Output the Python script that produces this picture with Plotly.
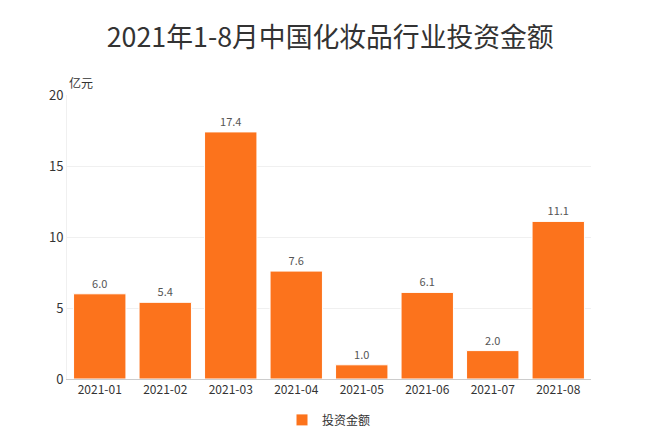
import plotly.graph_objects as go

categories = ["2021-01", "2021-02", "2021-03", "2021-04", "2021-05", "2021-06", "2021-07", "2021-08"]
values = [6.0, 5.4, 17.4, 7.6, 1.0, 6.1, 2.0, 11.1]
series_name = "投资金额"
title_text = "2021年1-8月中国化妆品行业投资金额"
unit_label = "亿元"

font_family = "Microsoft YaHei, Noto Sans CJK SC, sans-serif"

fig = go.Figure()
fig.add_trace(go.Bar(
    x=categories, y=values, name=series_name,
    marker=dict(color="#FC731C", line=dict(color="white", width=1)),
    text=[f"{v:.1f}" for v in values], textposition="outside",
    textfont=dict(size=11, color="#555555"),
    cliponaxis=False,
))

fig.update_layout(
    width=667, height=432,
    margin=dict(l=67, r=76, t=95, b=53, autoexpand=False),
    paper_bgcolor="white", plot_bgcolor="white",
    font=dict(family=font_family, color="#333333"),
    title=dict(text=title_text, x=0.495, xanchor="center", y=0.912, yanchor="middle",
               font=dict(size=26.8, color="#333333")),
    bargap=0.2,
    showlegend=True,
    legend=dict(orientation="h", x=0.5, xanchor="center", yref="container", y=0.028,
                yanchor="middle", font=dict(size=12, color="#333333"), itemwidth=30),
    xaxis=dict(type="category", showline=True, linecolor="#cccccc", linewidth=1, ticks="",
               tickfont=dict(size=12, color="#333333")),
    yaxis=dict(range=[0, 20], dtick=5, showgrid=True, gridcolor="#f0f0f0",
               zeroline=False, showline=True, linecolor="#f0f0f0",
               tickfont=dict(size=13, color="#333333"), ticks="", ticklen=4),
    annotations=[dict(text=unit_label, xref="paper", yref="paper", x=0, y=1.0,
                      xanchor="left", yanchor="bottom", showarrow=False,
                      font=dict(size=12, color="#333333"), yshift=2)],
)

fig.write_html("out.html")
